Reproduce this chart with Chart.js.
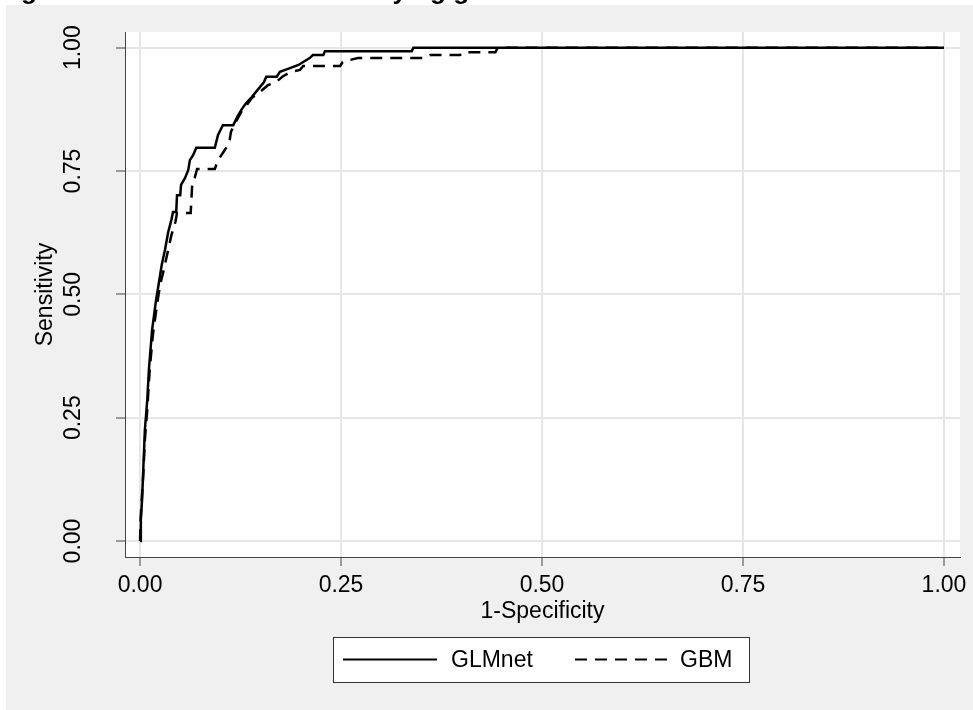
<!DOCTYPE html>
<html lang="en">
<head>
<meta charset="UTF-8">
<title>ROC curves: GLMnet vs GBM</title>
<script src="https://cdnjs.cloudflare.com/ajax/libs/Chart.js/4.4.1/chart.umd.min.js"></script>
<style>
    html, body { margin: 0; padding: 0; background: #ffffff; }
    #wrap { width: 973px; height: 710px; }
</style>
</head>
<body>
<div id="wrap"><canvas id="roc" width="973" height="710"></canvas></div>
<script>
// ROC curves (false positive rate, true positive rate)
const glmFpr = [0, 0.001, 0.0025, 0.004, 0.006, 0.009, 0.011, 0.015, 0.020, 0.024, 0.027, 0.031, 0.035, 0.039, 0.041, 0.045, 0.046, 0.050, 0.051, 0.056, 0.060, 0.062, 0.066, 0.070, 0.093, 0.097, 0.103, 0.116, 0.121, 0.126, 0.132, 0.139, 0.146, 0.154, 0.157, 0.170, 0.174, 0.184, 0.197, 0.203, 0.211, 0.215, 0.228, 0.230, 0.338, 0.340, 1];
const glmTpr = [0, 0.043, 0.083, 0.144, 0.225, 0.286, 0.347, 0.428, 0.489, 0.529, 0.560, 0.590, 0.626, 0.651, 0.667, 0.667, 0.701, 0.701, 0.722, 0.736, 0.752, 0.772, 0.782, 0.797, 0.797, 0.823, 0.843, 0.843, 0.860, 0.874, 0.888, 0.900, 0.914, 0.930, 0.941, 0.941, 0.951, 0.957, 0.965, 0.971, 0.979, 0.985, 0.985, 0.993, 0.993, 1, 1];

const gbmFpr = [0, 0.001, 0.004, 0.006, 0.009, 0.012, 0.016, 0.021, 0.025, 0.030, 0.035, 0.039, 0.044, 0.046, 0.063, 0.065, 0.068, 0.071, 0.093, 0.097, 0.104, 0.111, 0.113, 0.119, 0.126, 0.132, 0.139, 0.149, 0.159, 0.169, 0.177, 0.187, 0.199, 0.203, 0.249, 0.252, 0.261, 0.271, 0.354, 0.361, 0.398, 0.402, 0.442, 0.445, 1];
const gbmTpr = [0, 0.053, 0.134, 0.205, 0.266, 0.347, 0.418, 0.478, 0.519, 0.553, 0.590, 0.620, 0.647, 0.665, 0.665, 0.726, 0.736, 0.754, 0.754, 0.772, 0.789, 0.807, 0.829, 0.849, 0.870, 0.882, 0.898, 0.910, 0.924, 0.930, 0.941, 0.951, 0.955, 0.963, 0.963, 0.971, 0.975, 0.979, 0.979, 0.985, 0.985, 0.991, 0.991, 1, 1];

const seriesNames = ['GLMnet', 'GBM'];
const tickValues = [0, 0.25, 0.5, 0.75, 1];
const tickLabels = ['0.00', '0.25', '0.50', '0.75', '1.00'];
const xTitle = '1-Specificity';
const yTitle = 'Sensitivity';
const figTitle = 'Figure 2. ROC curves for classifying good and bad outcomes';

const FONT = "'Liberation Sans', Arial, sans-serif";

function toPoints(xs, ys) {
    return xs.map((x, i) => ({ x: x, y: ys[i] }));
}

// backgrounds, rotated y labels, framed legend and the clipped title
const decor = {
    id: 'decor',
    beforeDraw(chart) {
        const ctx = chart.ctx, a = chart.chartArea;
        ctx.save();
        ctx.fillStyle = '#ffffff';
        ctx.fillRect(0, 0, chart.width, chart.height);
        ctx.fillStyle = '#f0f0f0';
        ctx.fillRect(6, 5, chart.width - 6, chart.height - 5);
        ctx.fillStyle = '#ffffff';
        ctx.fillRect(a.left, a.top, a.right - a.left, a.bottom - a.top);
        ctx.restore();
    },
    afterDraw(chart) {
        const ctx = chart.ctx, a = chart.chartArea, ys = chart.scales.y;
        ctx.save();
        ctx.fillStyle = '#000000';
        ctx.font = '23px ' + FONT;
        ctx.textAlign = 'center';
        ctx.textBaseline = 'middle';
        tickValues.forEach((v, i) => {
            ctx.save();
            ctx.translate(74, ys.getPixelForValue(v));
            ctx.rotate(-Math.PI / 2);
            ctx.fillText(tickLabels[i], 0, 0);
            ctx.restore();
        });
        ctx.save();
        ctx.translate(46, (a.top + a.bottom) / 2);
        ctx.rotate(-Math.PI / 2);
        ctx.fillText(yTitle, 0, 0);
        ctx.restore();

        // legend
        const lx = 333, ly = 637, lw = 416, lh = 45, cy = ly + lh / 2;
        ctx.fillStyle = '#ffffff';
        ctx.fillRect(lx, ly, lw, lh);
        ctx.strokeStyle = '#333333';
        ctx.lineWidth = 1;
        ctx.strokeRect(lx + 0.5, ly + 0.5, lw, lh);
        const ds = chart.data.datasets;
        const items = [{ x0: 343, x1: 437, tx: 451 }, { x0: 575, x1: 668, tx: 680 }];
        items.forEach((it, i) => {
            ctx.strokeStyle = '#000000';
            ctx.lineWidth = 2;
            ctx.setLineDash(ds[i].borderDash || []);
            ctx.beginPath();
            ctx.moveTo(it.x0, cy);
            ctx.lineTo(it.x1, cy);
            ctx.stroke();
            ctx.setLineDash([]);
            ctx.fillStyle = '#000000';
            ctx.textAlign = 'left';
            ctx.fillText(ds[i].label, it.tx, cy + 1);
        });

        // title sits above the picture, only its descenders show
        ctx.fillStyle = '#000000';
        ctx.font = 'bold 26px ' + FONT;
        ctx.textAlign = 'left';
        ctx.textBaseline = 'alphabetic';
        ctx.fillText(figTitle, -2, -1);
        ctx.restore();
    }
};

new Chart(document.getElementById('roc'), {
    type: 'line',
    data: {
        datasets: [
            {
                label: seriesNames[0],
                data: toPoints(glmFpr, glmTpr),
                borderColor: '#000000',
                borderWidth: 2.5,
                pointRadius: 0,
                tension: 0
            },
            {
                label: seriesNames[1],
                data: toPoints(gbmFpr, gbmTpr),
                borderColor: '#000000',
                borderWidth: 2.5,
                borderDash: [12, 8],
                pointRadius: 0,
                tension: 0
            }
        ]
    },
    options: {
        responsive: false,
        devicePixelRatio: 1,
        animation: false,
        layout: { padding: { left: 0, top: 32, right: 13, bottom: 85 } },
        plugins: {
            legend: { display: false },
            tooltip: { enabled: false }
        },
        scales: {
            x: {
                type: 'linear',
                min: -0.0187,
                max: 1.0199,
                afterBuildTicks: s => { s.ticks = tickValues.map(v => ({ value: v })); },
                afterFit: s => { s.height = 68; },
                ticks: {
                    color: '#000000',
                    font: { family: FONT, size: 23 },
                    padding: 6,
                    maxRotation: 0,
                    callback: v => tickLabels[tickValues.indexOf(v)]
                },
                grid: { color: '#e6e6e6', lineWidth: 2, tickColor: '#444444', tickLength: 9, tickWidth: 1 },
                border: { color: '#444444', width: 1 },
                title: {
                    display: true,
                    text: xTitle,
                    color: '#000000',
                    font: { family: FONT, size: 23 },
                    padding: { top: 0, bottom: 0 }
                }
            },
            y: {
                type: 'linear',
                min: -0.0324,
                max: 1.0318,
                afterBuildTicks: s => { s.ticks = tickValues.map(v => ({ value: v })); },
                afterFit: s => { s.width = 125; },
                ticks: { color: 'rgba(0,0,0,0)', font: { family: FONT, size: 23 } },
                grid: { color: '#e6e6e6', lineWidth: 2, tickColor: '#444444', tickLength: 9, tickWidth: 1 },
                border: { color: '#444444', width: 1 }
            }
        }
    },
    plugins: [decor]
});
</script>
</body>
</html>
